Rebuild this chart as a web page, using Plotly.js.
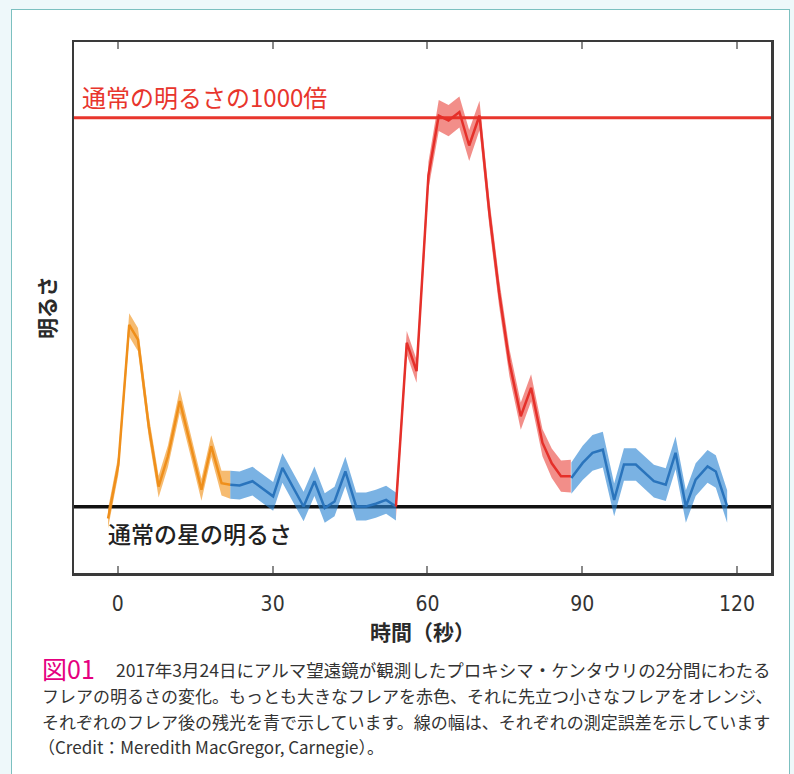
<!DOCTYPE html>
<html>
<head>
<meta charset="utf-8">
<script src="https://cdn.plot.ly/plotly-3.0.1.min.js"></script>
<style>
  html, body { margin:0; padding:0; background:#eef8fa; }
  #panel { position:absolute; left:11px; top:9px; width:779px; height:780px; background:#ffffff; border:1.5px solid #7cc0c0; box-sizing:border-box; }
  #chart { position:absolute; left:0; top:0; width:794px; height:774px; }
</style>
</head>
<body>
<div id="panel"></div>
<div id="chart"></div>
<script>
// ---- data (time in seconds, brightness in units where normal = 0, 1000x = 1000) ----
const orangeT   = [-1.9, 0.1, 2.2, 3.9, 6.0, 7.9, 9.7, 12.0, 14.1, 16.2, 18.1, 20.1, 21.8];
const orangeV   = [-30, 108, 468, 430, 206, 52, 130, 272, 159, 44, 156, 61, 57];
const orangeErr = [25, 25, 30, 30, 28, 28, 28, 30, 28, 28, 28, 32, 36];

const blue1T   = [21.8, 23.6, 26.1, 30.1, 31.9, 36.0, 38.1, 40.1, 42.0, 44.1, 46.2, 48.1, 50.0, 52.0, 53.9];
const blue1V   = [57, 55, 66, 27, 100, 1, 66, -3, 14, 91, 1, 1, 8, 18, 1];
const blue1Err = [36, 36, 37, 37, 38, 38, 38, 38, 38, 38, 36, 36, 36, 36, 36];

const redT   = [53.9, 56.0, 57.9, 60.2, 62.2, 64.1, 66.2, 68.1, 70.1, 72.0, 73.9, 75.9, 78.1, 80.1, 82.3, 84.1, 85.9, 87.8];
const redV   = [1, 422, 349, 852, 1006, 993, 1015, 929, 1006, 757, 551, 371, 233, 306, 165, 112, 79, 79];
const redErr = [30, 30, 30, 35, 40, 40, 40, 40, 38, 35, 35, 35, 35, 35, 35, 38, 40, 42];

const blue2T   = [87.9, 90.1, 92.0, 94.0, 96.2, 98.1, 100.4, 103.9, 106.2, 108.1, 110.1, 112.0, 114.3, 115.9, 118.1];
const blue2V   = [74, 113, 139, 147, 18, 109, 109, 66, 57, 139, 1, 70, 104, 91, 1];
const blue2Err = [40, 44, 46, 46, 42, 42, 42, 42, 42, 42, 42, 42, 42, 42, 42];

const normalLevel = 0;
const flareLevel  = 1000;
const xTicks = [0, 30, 60, 90, 120];
const xTickText = ['0', '30', '60', '90', '120'];

// ---- build traces ----
function band(t, v, e, fillColor) {
  const up = v.map((y, i) => y + e[i]);
  const lo = v.map((y, i) => y - e[i]);
  return [
    { x: t, y: up, type: 'scatter', mode: 'lines', line: { width: 0, color: fillColor }, hoverinfo: 'skip', showlegend: false },
    { x: t, y: lo, type: 'scatter', mode: 'lines', line: { width: 0, color: fillColor }, fill: 'tonexty', fillcolor: fillColor, hoverinfo: 'skip', showlegend: false }
  ];
}
function line(t, v, color) {
  return { x: t, y: v, type: 'scatter', mode: 'lines', line: { width: 2.5, color: color }, showlegend: false };
}

const ORANGE = '#ef8f1b', ORANGE_BAND = 'rgba(240,145,25,0.62)';
const BLUE = '#2a74bc', BLUE_BAND = 'rgba(40,130,210,0.62)';
const RED = '#e5302a', RED_BAND = 'rgba(232,50,40,0.55)';

const data = [
  ...band(orangeT, orangeV, orangeErr, ORANGE_BAND),
  ...band(blue1T, blue1V, blue1Err, BLUE_BAND),
  ...band(redT, redV, redErr, RED_BAND),
  ...band(blue2T, blue2V, blue2Err, BLUE_BAND),
  line(orangeT, orangeV, ORANGE),
  line(blue1T, blue1V, BLUE),
  line(redT, redV, RED),
  line(blue2T, blue2V, BLUE)
];

const plotH = 531;
function py(p) { return (573 - p) / plotH; }
function px(p) { return (p - 74) / 697; }
const CAP_FONT = "'Liberation Sans Narrow', 'Noto Sans CJK JP', sans-serif";
const TITLE_FONT = { family: "'Noto Sans CJK JP', sans-serif", size: 21, color: '#2a2a2a', weight: 'bold' };

const layout = {
  width: 794, height: 774,
  margin: { l: 74, r: 23, t: 42, b: 201 },
  paper_bgcolor: 'rgba(0,0,0,0)',
  plot_bgcolor: '#ffffff',
  showlegend: false,
  font: { family: "'Noto Sans CJK JP', sans-serif", color: '#333' },
  xaxis: {
    range: [-8.5, 126.6],
    tickvals: xTicks, ticktext: xTickText,
    ticks: 'inside', ticklen: 7, tickwidth: 2, tickcolor: '#8a8a8a',
    showline: true, mirror: 'ticks', linecolor: '#3a3a3a', linewidth: 2.5,
    showgrid: false, zeroline: false,
    tickfont: { family: "'DejaVu Sans Condensed', sans-serif", size: 21, color: '#333' },
    ticklabelstandoff: 10,
    title: { text: '時間（秒）', font: TITLE_FONT, standoff: 2 },
    automargin: false
  },
  yaxis: {
    range: [-170, 1195],
    showticklabels: false, ticks: '',
    showline: true, mirror: true, linecolor: '#3a3a3a', linewidth: 2.5,
    showgrid: false, zeroline: false,
    title: { text: '明るさ', font: TITLE_FONT, standoff: 10 },
    automargin: false
  },
  shapes: [
    { type: 'line', xref: 'paper', x0: 0, x1: 1, yref: 'y', y0: normalLevel, y1: normalLevel, line: { color: '#111', width: 3.5 }, layer: 'below' },
    { type: 'line', xref: 'paper', x0: 0, x1: 1, yref: 'y', y0: flareLevel, y1: flareLevel, line: { color: '#e8352c', width: 3 }, layer: 'below' }
  ],
  annotations: [
    { xref: 'paper', yref: 'y', x: px(80), y: 1054, xanchor: 'left', yanchor: 'middle', showarrow: false,
      text: '通常の明るさの1000倍', font: { family: "'Noto Sans CJK JP', sans-serif", size: 24, color: '#e8352c' } },
    { xref: 'paper', yref: 'y', x: px(106), y: -67, xanchor: 'left', yanchor: 'middle', showarrow: false,
      text: '通常の星の明るさ', font: { family: "'Noto Sans CJK JP', sans-serif", size: 23, color: '#222', weight: 500 } },
    { xref: 'paper', yref: 'paper', x: px(40), y: py(668), xanchor: 'left', yanchor: 'middle', showarrow: false,
      text: '図01', font: { family: CAP_FONT, size: 25, color: '#e5007f' } },
    { xref: 'paper', yref: 'paper', x: px(773), y: py(669), xanchor: 'right', yanchor: 'middle', showarrow: false,
      text: '2017年3月24日にアルマ望遠鏡が観測したプロキシマ・ケンタウリの2分間にわたる', font: { family: CAP_FONT, size: 17.5, color: '#333' } },
    { xref: 'paper', yref: 'paper', x: px(40), y: py(695), xanchor: 'left', yanchor: 'middle', showarrow: false,
      text: 'フレアの明るさの変化。もっとも大きなフレアを赤色、それに先立つ小さなフレアをオレンジ、', font: { family: CAP_FONT, size: 17, color: '#333' } },
    { xref: 'paper', yref: 'paper', x: px(40), y: py(721), xanchor: 'left', yanchor: 'middle', showarrow: false,
      text: 'それぞれのフレア後の残光を青で示しています。線の幅は、それぞれの測定誤差を示しています', font: { family: CAP_FONT, size: 17, color: '#333' } },
    { xref: 'paper', yref: 'paper', x: px(36), y: py(746), xanchor: 'left', yanchor: 'middle', showarrow: false,
      text: '（Credit：Meredith MacGregor, Carnegie）。', font: { family: CAP_FONT, size: 17, color: '#333' } }
  ]
};

Plotly.newPlot('chart', data, layout, { displayModeBar: false, staticPlot: true });
</script>
</body>
</html>
